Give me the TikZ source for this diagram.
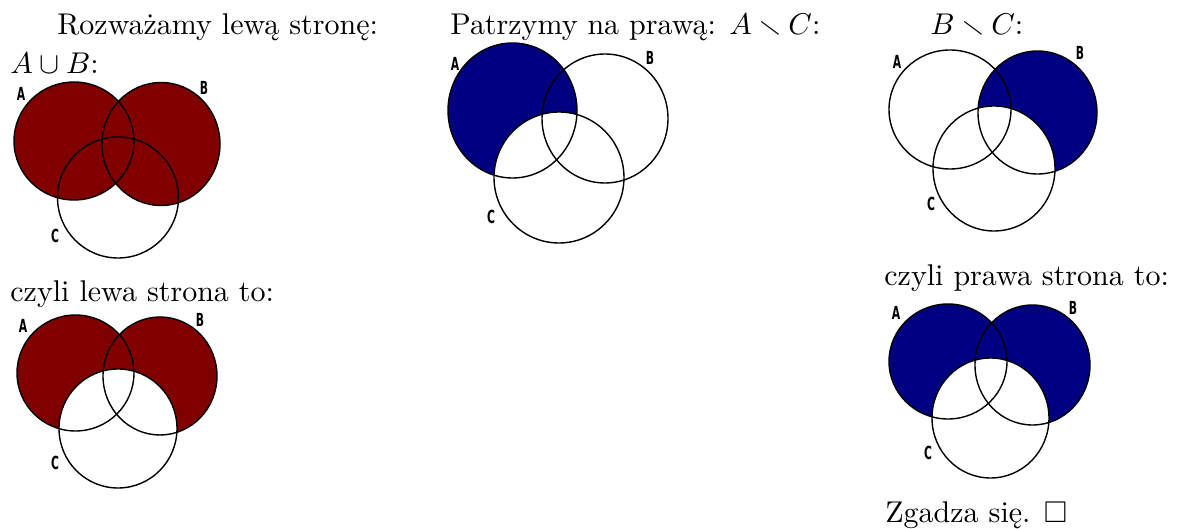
\documentclass[tikz,border=0pt]{standalone}
\usepackage{amssymb}
\usepackage{fontspec}
\newfontfamily\labfont{DejaVu Sans}
\definecolor{vmaroon}{RGB}{128,0,0}
\definecolor{vnavy}{RGB}{0,0,128}
\tikzset{
  txt/.style={anchor=base west, inner sep=0pt, font=\fontsize{10}{12}\selectfont},
  lab/.style={inner sep=0pt, font=\fontsize{9}{10}\labfont\bfseries},
  ring/.style={draw=black, line width=0.7pt},
}
\newcommand{\lbl}[1]{\scalebox{0.6}[1]{#1}}
\newcommand{\bigtxt}[1]{\scalebox{1.5}{#1}}
\begin{document}
\begin{tikzpicture}[x=0.5pt,y=-0.5pt]
\useasboundingbox (0,0) rectangle (1180,529);

% ---------- texts ----------
\node[txt] (t1) at (57,35) {\bigtxt{Rozważamy lewą stronę:}};
\node[txt] (t2) at (10,74) {\bigtxt{$A\cup B$:}};
\node[txt] (t3) at (450,35) {\bigtxt{Patrzymy na prawą: $A\smallsetminus C$:}};
\node[txt] (t4) at (930,35) {\bigtxt{$B\smallsetminus C$:}};
\node[txt] (t5) at (10,302) {\bigtxt{czyli lewa strona to:}};
\node[txt] (t6) at (884,286) {\bigtxt{czyli prawa strona to:}};
\node[txt] (t7) at (885,523) {\bigtxt{Zgadza się. $\square$}};

% ---------- diagram 1: A u B ----------
\fill[vmaroon] (74,141) ellipse [x radius=60, y radius=59];
\fill[vmaroon] (161,144) ellipse [x radius=59, y radius=61.5];
\draw[ring] (74,141) ellipse [x radius=60, y radius=59];
\draw[ring] (161,144) ellipse [x radius=59, y radius=61.5];
\draw[ring] (118,197.5) ellipse [x radius=60.5, y radius=60.5];
\node[lab] (a1) at (21,94) {\lbl{A}};
\node[lab] (b1) at (204,88) {\lbl{B}};
\node[lab] (c1) at (55,236) {\lbl{C}};

% ---------- diagram 2: A \ C ----------
\begin{scope}
  \clip (512.5,110.5) ellipse [x radius=64.5, y radius=67.5];
  \fill[vnavy] (512.5,110.5) ellipse [x radius=64.5, y radius=67.5];
  \fill[white] (559,177.5) ellipse [x radius=65, y radius=65.5];
\end{scope}
\draw[ring] (512.5,110.5) ellipse [x radius=64.5, y radius=67.5];
\draw[ring] (605,118.5) ellipse [x radius=63, y radius=64.5];
\draw[ring] (559,177.5) ellipse [x radius=65, y radius=65.5];
\node[lab] (a2) at (455,64) {\lbl{A}};
\node[lab] (b2) at (650,58) {\lbl{B}};
\node[lab] (c2) at (491,217) {\lbl{C}};

% ---------- diagram 3: B \ C ----------
\begin{scope}
  \clip (1037.5,112.5) ellipse [x radius=59.5, y radius=61.5];
  \fill[vnavy] (1037.5,112.5) ellipse [x radius=59.5, y radius=61.5];
  \fill[white] (994,168.5) ellipse [x radius=61, y radius=62.5];
\end{scope}
\draw[ring] (950,109.5) ellipse [x radius=61, y radius=59.5];
\draw[ring] (1037.5,112.5) ellipse [x radius=59.5, y radius=61.5];
\draw[ring] (994,168.5) ellipse [x radius=61, y radius=62.5];
\node[lab] (a3) at (897,62) {\lbl{A}};
\node[lab] (b3) at (1080,53) {\lbl{B}};
\node[lab] (c3) at (931,204) {\lbl{C}};

% ---------- diagram 4: (A u B) \ C ----------
\fill[vmaroon] (75.5,373) ellipse [x radius=58.5, y radius=58];
\fill[vmaroon] (160,376) ellipse [x radius=57, y radius=59];
\fill[white] (118,428.5) ellipse [x radius=59, y radius=59.5];
\draw[ring] (75.5,373) ellipse [x radius=58.5, y radius=58];
\draw[ring] (160,376) ellipse [x radius=57, y radius=59];
\draw[ring] (118,428.5) ellipse [x radius=59, y radius=59.5];
\node[lab] (a4) at (23,326) {\lbl{A}};
\node[lab] (b4) at (200,320) {\lbl{B}};
\node[lab] (c4) at (55,463) {\lbl{C}};

% ---------- diagram 5: (A \ C) u (B \ C) ----------
\fill[vnavy] (948,361.5) ellipse [x radius=59, y radius=57.5];
\fill[vnavy] (1032.5,365) ellipse [x radius=57.5, y radius=60];
\fill[white] (990.5,418) ellipse [x radius=58.5, y radius=60];
\draw[ring] (948,361.5) ellipse [x radius=59, y radius=57.5];
\draw[ring] (1032.5,365) ellipse [x radius=57.5, y radius=60];
\draw[ring] (990.5,418) ellipse [x radius=58.5, y radius=60];
\node[lab] (a5) at (896,313) {\lbl{A}};
\node[lab] (b5) at (1073,308) {\lbl{B}};
\node[lab] (c5) at (928,453) {\lbl{C}};
\end{tikzpicture}
\end{document}
